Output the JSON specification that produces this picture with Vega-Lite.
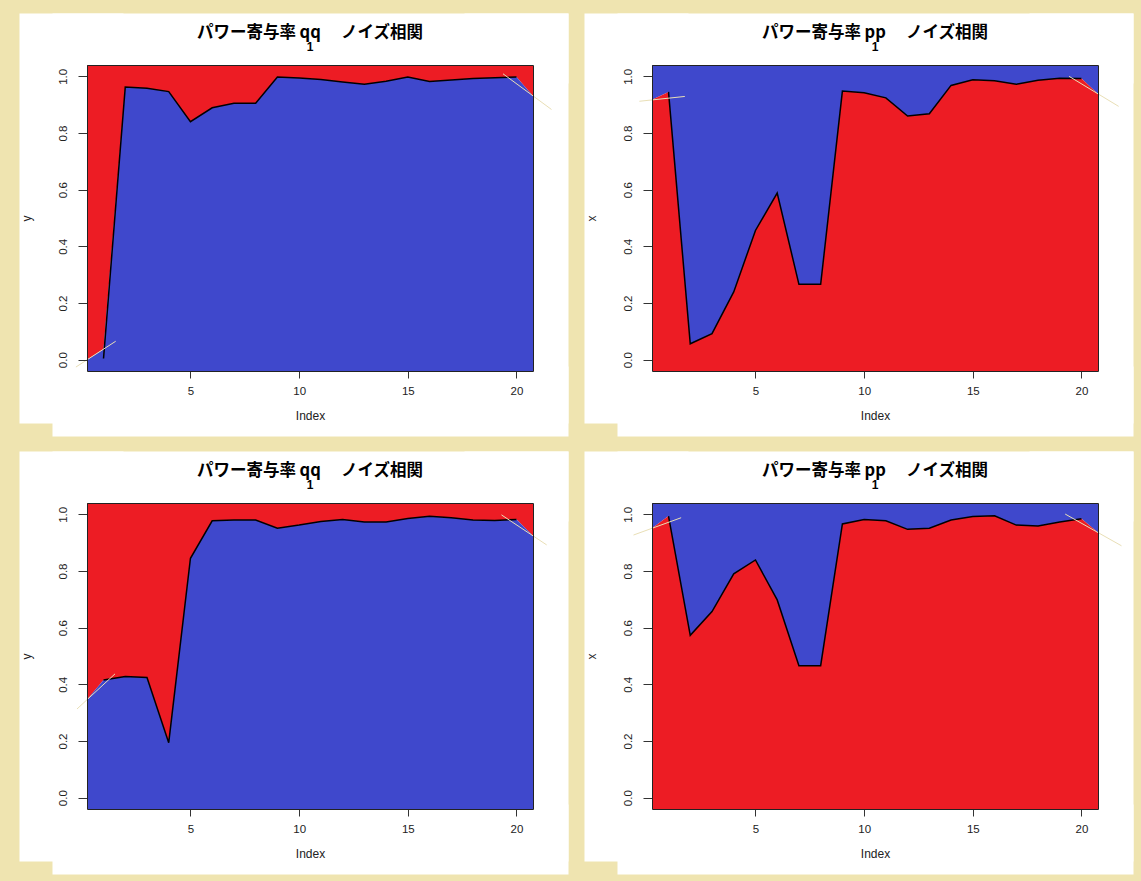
{
  "$schema": "https://vega.github.io/schema/vega-lite/v6.json",
  "background": "#EFE4B0",
  "padding": {"left": 19, "top": 24, "right": 17, "bottom": 21},
  "columns": 2,
  "spacing": {"row": 132, "column": 119},
  "bounds": "flush",
  "datasets": {
    "a1": [{"x":0.24,"y":0.0},{"x":1,"y":0.037},{"x":2,"y":0.962},{"x":3,"y":0.958},{"x":4,"y":0.946},{"x":5,"y":0.84},{"x":6,"y":0.889},{"x":7,"y":0.905},{"x":8,"y":0.905},{"x":9,"y":0.998},{"x":10,"y":0.994},{"x":11,"y":0.989},{"x":12,"y":0.98},{"x":13,"y":0.972},{"x":14,"y":0.983},{"x":15,"y":0.998},{"x":16,"y":0.982},{"x":17,"y":0.987},{"x":18,"y":0.992},{"x":19,"y":0.995},{"x":20,"y":0.998},{"x":20.76,"y":0.931}],
    "l1": [{"x":1,"y":0.004},{"x":2,"y":0.962},{"x":3,"y":0.958},{"x":4,"y":0.946},{"x":5,"y":0.84},{"x":6,"y":0.889},{"x":7,"y":0.905},{"x":8,"y":0.905},{"x":9,"y":0.998},{"x":10,"y":0.994},{"x":11,"y":0.989},{"x":12,"y":0.98},{"x":13,"y":0.972},{"x":14,"y":0.983},{"x":15,"y":0.998},{"x":16,"y":0.982},{"x":17,"y":0.987},{"x":18,"y":0.992},{"x":19,"y":0.995},{"x":20,"y":0.998}],
    "p1": [{"s":"a","x":-0.27,"y":-0.026},{"s":"a","x":1.56,"y":0.065},{"s":"b","x":19.38,"y":1.009},{"s":"b","x":21.61,"y":0.883}],
    "a2": [{"x":0.24,"y":0.917},{"x":1,"y":0.945},{"x":2,"y":0.056},{"x":3,"y":0.092},{"x":4,"y":0.239},{"x":5,"y":0.456},{"x":6,"y":0.588},{"x":7,"y":0.266},{"x":8,"y":0.266},{"x":9,"y":0.948},{"x":10,"y":0.942},{"x":11,"y":0.924},{"x":12,"y":0.86},{"x":13,"y":0.868},{"x":14,"y":0.968},{"x":15,"y":0.988},{"x":16,"y":0.984},{"x":17,"y":0.972},{"x":18,"y":0.986},{"x":19,"y":0.993},{"x":20,"y":0.992},{"x":20.76,"y":0.938}],
    "l2": [{"x":1,"y":0.945},{"x":2,"y":0.056},{"x":3,"y":0.092},{"x":4,"y":0.239},{"x":5,"y":0.456},{"x":6,"y":0.588},{"x":7,"y":0.266},{"x":8,"y":0.266},{"x":9,"y":0.948},{"x":10,"y":0.942},{"x":11,"y":0.924},{"x":12,"y":0.86},{"x":13,"y":0.868},{"x":14,"y":0.968},{"x":15,"y":0.988},{"x":16,"y":0.984},{"x":17,"y":0.972},{"x":18,"y":0.986},{"x":19,"y":0.993},{"x":20,"y":0.992}],
    "p2": [{"s":"a","x":-0.34,"y":0.912},{"s":"a","x":1.75,"y":0.929},{"s":"b","x":19.43,"y":1.0},{"s":"b","x":21.71,"y":0.894}],
    "a3": [{"x":0.24,"y":0.346},{"x":1,"y":0.415},{"x":2,"y":0.428},{"x":3,"y":0.424},{"x":4,"y":0.194},{"x":5,"y":0.845},{"x":6,"y":0.977},{"x":7,"y":0.98},{"x":8,"y":0.98},{"x":9,"y":0.951},{"x":10,"y":0.962},{"x":11,"y":0.975},{"x":12,"y":0.982},{"x":13,"y":0.973},{"x":14,"y":0.973},{"x":15,"y":0.985},{"x":16,"y":0.993},{"x":17,"y":0.988},{"x":18,"y":0.98},{"x":19,"y":0.978},{"x":20,"y":0.982},{"x":20.76,"y":0.924}],
    "l3": [{"x":1,"y":0.415},{"x":2,"y":0.428},{"x":3,"y":0.424},{"x":4,"y":0.194},{"x":5,"y":0.845},{"x":6,"y":0.977},{"x":7,"y":0.98},{"x":8,"y":0.98},{"x":9,"y":0.951},{"x":10,"y":0.962},{"x":11,"y":0.975},{"x":12,"y":0.982},{"x":13,"y":0.973},{"x":14,"y":0.973},{"x":15,"y":0.985},{"x":16,"y":0.993},{"x":17,"y":0.988},{"x":18,"y":0.98},{"x":19,"y":0.978},{"x":20,"y":0.982}],
    "p3": [{"s":"a","x":-0.22,"y":0.313},{"s":"a","x":1.53,"y":0.437},{"s":"b","x":19.31,"y":0.998},{"s":"b","x":21.39,"y":0.892}],
    "a4": [{"x":0.24,"y":0.951},{"x":1,"y":0.994},{"x":2,"y":0.573},{"x":3,"y":0.657},{"x":4,"y":0.79},{"x":5,"y":0.839},{"x":6,"y":0.698},{"x":7,"y":0.466},{"x":8,"y":0.466},{"x":9,"y":0.966},{"x":10,"y":0.982},{"x":11,"y":0.977},{"x":12,"y":0.947},{"x":13,"y":0.951},{"x":14,"y":0.98},{"x":15,"y":0.992},{"x":16,"y":0.995},{"x":17,"y":0.962},{"x":18,"y":0.959},{"x":19,"y":0.973},{"x":20,"y":0.984},{"x":20.76,"y":0.936}],
    "l4": [{"x":1,"y":0.994},{"x":2,"y":0.573},{"x":3,"y":0.657},{"x":4,"y":0.79},{"x":5,"y":0.839},{"x":6,"y":0.698},{"x":7,"y":0.466},{"x":8,"y":0.466},{"x":9,"y":0.966},{"x":10,"y":0.982},{"x":11,"y":0.977},{"x":12,"y":0.947},{"x":13,"y":0.951},{"x":14,"y":0.98},{"x":15,"y":0.992},{"x":16,"y":0.995},{"x":17,"y":0.962},{"x":18,"y":0.959},{"x":19,"y":0.973},{"x":20,"y":0.984}],
    "p4": [{"s":"a","x":-0.61,"y":0.927},{"s":"a","x":1.58,"y":0.988},{"s":"b","x":19.25,"y":1.001},{"s":"b","x":21.84,"y":0.889}]
  },
  "concat": [
    {
      "width": 446, "height": 306,
      "title": {"text": "パワー寄与率 qq　 ノイズ相関", "subtitle": "1"},
      "layer": [
        {"data": {"name": "a1"}, "mark": {"type": "area", "color": "#ED1C24"},
         "encoding": {
           "x": {"field": "x", "type": "quantitative", "scale": {"domain": [0.24, 20.76], "nice": false, "zero": false}, "axis": {"orient": "bottom", "values": [5, 10, 15, 20], "title": "Index", "zindex": 1, "tickSize": 7, "labelPadding": 7, "titlePadding": 14}},
           "y": {"field": "y", "type": "quantitative", "scale": {"domain": [-0.04, 1.04], "nice": false, "zero": false}, "axis": {"orient": "left", "values": [0, 0.2, 0.4, 0.6, 0.8, 1], "format": ".1f", "title": "y", "zindex": 1, "tickSize": 9, "labelAngle": -90, "labelAlign": "center", "labelBaseline": "bottom", "labelPadding": 10, "titlePadding": 24}},
           "y2": {"datum": 1.04}}},
        {"data": {"name": "a1"}, "mark": {"type": "area", "color": "#3F48CC"},
         "encoding": {
           "x": {"field": "x", "type": "quantitative", "scale": {"domain": [0.24, 20.76], "nice": false, "zero": false}, "axis": {"orient": "top", "offset": 17, "domainColor": "#FFFFFF", "domainWidth": 70, "domainCap": "square", "ticks": false, "labels": false, "title": null, "zindex": 0}},
           "y": {"field": "y", "type": "quantitative", "scale": {"domain": [-0.04, 1.04], "nice": false, "zero": false}, "axis": {"orient": "left", "offset": 16, "domainColor": "#FFFFFF", "domainWidth": 104, "domainCap": "square", "ticks": false, "labels": false, "title": null, "zindex": 0}},
           "y2": {"datum": -0.04}}},
        {"data": {"name": "l1"}, "mark": {"type": "line", "color": "#000000", "strokeWidth": 1.5},
         "encoding": {
           "x": {"field": "x", "type": "quantitative", "scale": {"domain": [0.24, 20.76], "nice": false, "zero": false}, "axis": {"orient": "bottom", "offset": 30, "domainColor": "#FFFFFF", "domainWidth": 70, "domainCap": "square", "ticks": false, "labels": false, "title": null, "zindex": 0}},
           "y": {"field": "y", "type": "quantitative", "scale": {"domain": [-0.04, 1.04], "nice": false, "zero": false}, "axis": {"orient": "right", "offset": -17, "domainColor": "#FFFFFF", "domainWidth": 104, "domainCap": "square", "ticks": false, "labels": false, "title": null, "zindex": 0}}}},
        {"data": {"name": "p1"}, "mark": {"type": "line", "color": "#E9DFB6", "strokeWidth": 1},
         "encoding": {
           "x": {"field": "x", "type": "quantitative", "scale": {"domain": [0.24, 20.76], "nice": false, "zero": false}, "axis": {"orient": "top", "domainColor": "#222222", "domainWidth": 1, "ticks": false, "labels": false, "title": null, "zindex": 1}},
           "y": {"field": "y", "type": "quantitative", "scale": {"domain": [-0.04, 1.04], "nice": false, "zero": false}, "axis": {"orient": "right", "domainColor": "#222222", "domainWidth": 1, "ticks": false, "labels": false, "title": null, "zindex": 1}},
           "detail": {"field": "s", "type": "nominal"}}}
      ],
      "resolve": {"axis": {"x": "independent", "y": "independent"}}
    },
    {
      "width": 446, "height": 306,
      "title": {"text": "パワー寄与率 pp　 ノイズ相関", "subtitle": "1"},
      "layer": [
        {"data": {"name": "a2"}, "mark": {"type": "area", "color": "#3F48CC"},
         "encoding": {
           "x": {"field": "x", "type": "quantitative", "scale": {"domain": [0.24, 20.76], "nice": false, "zero": false}, "axis": {"orient": "bottom", "values": [5, 10, 15, 20], "title": "Index", "zindex": 1, "tickSize": 7, "labelPadding": 7, "titlePadding": 14}},
           "y": {"field": "y", "type": "quantitative", "scale": {"domain": [-0.04, 1.04], "nice": false, "zero": false}, "axis": {"orient": "left", "values": [0, 0.2, 0.4, 0.6, 0.8, 1], "format": ".1f", "title": "x", "zindex": 1, "tickSize": 9, "labelAngle": -90, "labelAlign": "center", "labelBaseline": "bottom", "labelPadding": 10, "titlePadding": 24}},
           "y2": {"datum": 1.04}}},
        {"data": {"name": "a2"}, "mark": {"type": "area", "color": "#ED1C24"},
         "encoding": {
           "x": {"field": "x", "type": "quantitative", "scale": {"domain": [0.24, 20.76], "nice": false, "zero": false}, "axis": {"orient": "top", "offset": 17, "domainColor": "#FFFFFF", "domainWidth": 70, "domainCap": "square", "ticks": false, "labels": false, "title": null, "zindex": 0}},
           "y": {"field": "y", "type": "quantitative", "scale": {"domain": [-0.04, 1.04], "nice": false, "zero": false}, "axis": {"orient": "left", "offset": 16, "domainColor": "#FFFFFF", "domainWidth": 104, "domainCap": "square", "ticks": false, "labels": false, "title": null, "zindex": 0}},
           "y2": {"datum": -0.04}}},
        {"data": {"name": "l2"}, "mark": {"type": "line", "color": "#000000", "strokeWidth": 1.5},
         "encoding": {
           "x": {"field": "x", "type": "quantitative", "scale": {"domain": [0.24, 20.76], "nice": false, "zero": false}, "axis": {"orient": "bottom", "offset": 30, "domainColor": "#FFFFFF", "domainWidth": 70, "domainCap": "square", "ticks": false, "labels": false, "title": null, "zindex": 0}},
           "y": {"field": "y", "type": "quantitative", "scale": {"domain": [-0.04, 1.04], "nice": false, "zero": false}, "axis": {"orient": "right", "offset": -17, "domainColor": "#FFFFFF", "domainWidth": 104, "domainCap": "square", "ticks": false, "labels": false, "title": null, "zindex": 0}}}},
        {"data": {"name": "p2"}, "mark": {"type": "line", "color": "#E9DFB6", "strokeWidth": 1},
         "encoding": {
           "x": {"field": "x", "type": "quantitative", "scale": {"domain": [0.24, 20.76], "nice": false, "zero": false}, "axis": {"orient": "top", "domainColor": "#222222", "domainWidth": 1, "ticks": false, "labels": false, "title": null, "zindex": 1}},
           "y": {"field": "y", "type": "quantitative", "scale": {"domain": [-0.04, 1.04], "nice": false, "zero": false}, "axis": {"orient": "right", "domainColor": "#222222", "domainWidth": 1, "ticks": false, "labels": false, "title": null, "zindex": 1}},
           "detail": {"field": "s", "type": "nominal"}}}
      ],
      "resolve": {"axis": {"x": "independent", "y": "independent"}}
    },
    {
      "width": 446, "height": 306,
      "title": {"text": "パワー寄与率 qq　 ノイズ相関", "subtitle": "1"},
      "layer": [
        {"data": {"name": "a3"}, "mark": {"type": "area", "color": "#ED1C24"},
         "encoding": {
           "x": {"field": "x", "type": "quantitative", "scale": {"domain": [0.24, 20.76], "nice": false, "zero": false}, "axis": {"orient": "bottom", "values": [5, 10, 15, 20], "title": "Index", "zindex": 1, "tickSize": 7, "labelPadding": 7, "titlePadding": 14}},
           "y": {"field": "y", "type": "quantitative", "scale": {"domain": [-0.04, 1.04], "nice": false, "zero": false}, "axis": {"orient": "left", "values": [0, 0.2, 0.4, 0.6, 0.8, 1], "format": ".1f", "title": "y", "zindex": 1, "tickSize": 9, "labelAngle": -90, "labelAlign": "center", "labelBaseline": "bottom", "labelPadding": 10, "titlePadding": 24}},
           "y2": {"datum": 1.04}}},
        {"data": {"name": "a3"}, "mark": {"type": "area", "color": "#3F48CC"},
         "encoding": {
           "x": {"field": "x", "type": "quantitative", "scale": {"domain": [0.24, 20.76], "nice": false, "zero": false}, "axis": {"orient": "top", "offset": 17, "domainColor": "#FFFFFF", "domainWidth": 70, "domainCap": "square", "ticks": false, "labels": false, "title": null, "zindex": 0}},
           "y": {"field": "y", "type": "quantitative", "scale": {"domain": [-0.04, 1.04], "nice": false, "zero": false}, "axis": {"orient": "left", "offset": 16, "domainColor": "#FFFFFF", "domainWidth": 104, "domainCap": "square", "ticks": false, "labels": false, "title": null, "zindex": 0}},
           "y2": {"datum": -0.04}}},
        {"data": {"name": "l3"}, "mark": {"type": "line", "color": "#000000", "strokeWidth": 1.5},
         "encoding": {
           "x": {"field": "x", "type": "quantitative", "scale": {"domain": [0.24, 20.76], "nice": false, "zero": false}, "axis": {"orient": "bottom", "offset": 30, "domainColor": "#FFFFFF", "domainWidth": 70, "domainCap": "square", "ticks": false, "labels": false, "title": null, "zindex": 0}},
           "y": {"field": "y", "type": "quantitative", "scale": {"domain": [-0.04, 1.04], "nice": false, "zero": false}, "axis": {"orient": "right", "offset": -17, "domainColor": "#FFFFFF", "domainWidth": 104, "domainCap": "square", "ticks": false, "labels": false, "title": null, "zindex": 0}}}},
        {"data": {"name": "p3"}, "mark": {"type": "line", "color": "#E9DFB6", "strokeWidth": 1},
         "encoding": {
           "x": {"field": "x", "type": "quantitative", "scale": {"domain": [0.24, 20.76], "nice": false, "zero": false}, "axis": {"orient": "top", "domainColor": "#222222", "domainWidth": 1, "ticks": false, "labels": false, "title": null, "zindex": 1}},
           "y": {"field": "y", "type": "quantitative", "scale": {"domain": [-0.04, 1.04], "nice": false, "zero": false}, "axis": {"orient": "right", "domainColor": "#222222", "domainWidth": 1, "ticks": false, "labels": false, "title": null, "zindex": 1}},
           "detail": {"field": "s", "type": "nominal"}}}
      ],
      "resolve": {"axis": {"x": "independent", "y": "independent"}}
    },
    {
      "width": 446, "height": 306,
      "title": {"text": "パワー寄与率 pp　 ノイズ相関", "subtitle": "1"},
      "layer": [
        {"data": {"name": "a4"}, "mark": {"type": "area", "color": "#3F48CC"},
         "encoding": {
           "x": {"field": "x", "type": "quantitative", "scale": {"domain": [0.24, 20.76], "nice": false, "zero": false}, "axis": {"orient": "bottom", "values": [5, 10, 15, 20], "title": "Index", "zindex": 1, "tickSize": 7, "labelPadding": 7, "titlePadding": 14}},
           "y": {"field": "y", "type": "quantitative", "scale": {"domain": [-0.04, 1.04], "nice": false, "zero": false}, "axis": {"orient": "left", "values": [0, 0.2, 0.4, 0.6, 0.8, 1], "format": ".1f", "title": "x", "zindex": 1, "tickSize": 9, "labelAngle": -90, "labelAlign": "center", "labelBaseline": "bottom", "labelPadding": 10, "titlePadding": 24}},
           "y2": {"datum": 1.04}}},
        {"data": {"name": "a4"}, "mark": {"type": "area", "color": "#ED1C24"},
         "encoding": {
           "x": {"field": "x", "type": "quantitative", "scale": {"domain": [0.24, 20.76], "nice": false, "zero": false}, "axis": {"orient": "top", "offset": 17, "domainColor": "#FFFFFF", "domainWidth": 70, "domainCap": "square", "ticks": false, "labels": false, "title": null, "zindex": 0}},
           "y": {"field": "y", "type": "quantitative", "scale": {"domain": [-0.04, 1.04], "nice": false, "zero": false}, "axis": {"orient": "left", "offset": 16, "domainColor": "#FFFFFF", "domainWidth": 104, "domainCap": "square", "ticks": false, "labels": false, "title": null, "zindex": 0}},
           "y2": {"datum": -0.04}}},
        {"data": {"name": "l4"}, "mark": {"type": "line", "color": "#000000", "strokeWidth": 1.5},
         "encoding": {
           "x": {"field": "x", "type": "quantitative", "scale": {"domain": [0.24, 20.76], "nice": false, "zero": false}, "axis": {"orient": "bottom", "offset": 30, "domainColor": "#FFFFFF", "domainWidth": 70, "domainCap": "square", "ticks": false, "labels": false, "title": null, "zindex": 0}},
           "y": {"field": "y", "type": "quantitative", "scale": {"domain": [-0.04, 1.04], "nice": false, "zero": false}, "axis": {"orient": "right", "offset": -17, "domainColor": "#FFFFFF", "domainWidth": 104, "domainCap": "square", "ticks": false, "labels": false, "title": null, "zindex": 0}}}},
        {"data": {"name": "p4"}, "mark": {"type": "line", "color": "#E9DFB6", "strokeWidth": 1},
         "encoding": {
           "x": {"field": "x", "type": "quantitative", "scale": {"domain": [0.24, 20.76], "nice": false, "zero": false}, "axis": {"orient": "top", "domainColor": "#222222", "domainWidth": 1, "ticks": false, "labels": false, "title": null, "zindex": 1}},
           "y": {"field": "y", "type": "quantitative", "scale": {"domain": [-0.04, 1.04], "nice": false, "zero": false}, "axis": {"orient": "right", "domainColor": "#222222", "domainWidth": 1, "ticks": false, "labels": false, "title": null, "zindex": 1}},
           "detail": {"field": "s", "type": "nominal"}}}
      ],
      "resolve": {"axis": {"x": "independent", "y": "independent"}}
    }
  ],
  "config": {
    "view": {"stroke": null},
    "axis": {"labelFont": "Liberation Sans", "titleFont": "Liberation Sans", "labelFontSize": 11.5, "titleFontSize": 12, "labelColor": "#222222", "titleColor": "#222222", "titleFontWeight": "normal", "tickColor": "#333333", "domainColor": "#222222", "grid": false, "labelFlush": false, "labelOverlap": false},
    "title": {"font": "Noto Sans CJK JP", "fontSize": 16.5, "fontWeight": "bold", "color": "#000000", "subtitleFont": "Liberation Sans", "subtitleFontSize": 12, "subtitleFontWeight": "bold", "subtitleColor": "#000000", "subtitlePadding": 1, "offset": -5, "frame": "group", "anchor": "middle"}
  }
}
